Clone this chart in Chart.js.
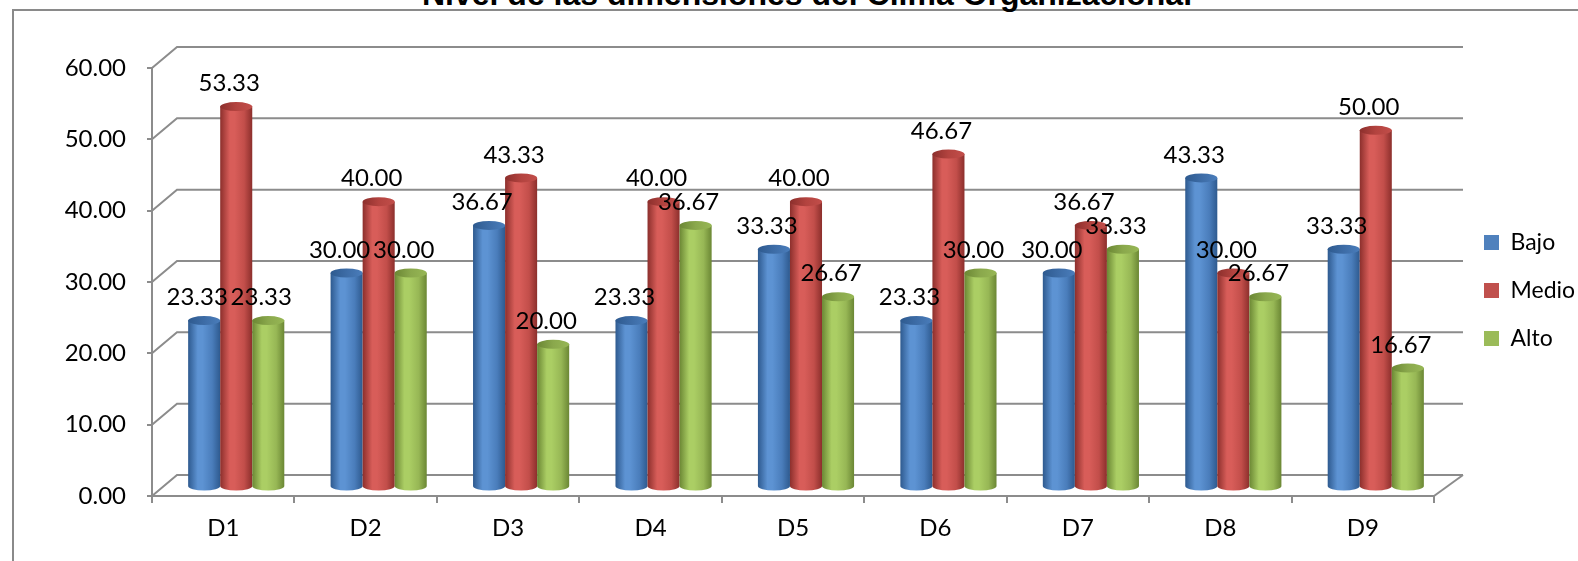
<!DOCTYPE html>
<html>
<head>
<meta charset="utf-8">
<script src="https://cdn.jsdelivr.net/npm/chart.js@4.4.1/dist/chart.umd.min.js"></script>
<style>
  body { margin: 0; width: 1578px; height: 561px; overflow: hidden; background: #fff; position: relative; }
  #frame { position: absolute; left: 12px; top: 9px; width: 1700px; height: 700px; border: 2px solid #8a8a8a; }
  #title { position: absolute; left: 0; width: 1614px; top: -24px; text-align: center; white-space: nowrap;
           font: bold 32px "Liberation Sans", Arial, sans-serif; color: #000; }
  canvas { position: absolute; left: 0; top: 0; }
</style>
</head>
<body>
<div id="frame"></div>
<div id="title">Nivel de las dimensiones del Clima Organizacional</div>
<canvas id="chart" width="1578" height="561"></canvas>
<script>
const categories = ['D1', 'D2', 'D3', 'D4', 'D5', 'D6', 'D7', 'D8', 'D9'];
const bajo  = [23.33, 30.00, 36.67, 23.33, 33.33, 23.33, 30.00, 43.33, 33.33];
const medio = [53.33, 40.00, 43.33, 40.00, 40.00, 46.67, 36.67, 30.00, 50.00];
const alto  = [23.33, 30.00, 20.00, 36.67, 26.67, 30.00, 33.33, 26.67, 16.67];
const yTicks = [0, 10, 20, 30, 40, 50, 60];

const FONT = 'Lato';
const GRID = '#8c8c8c';

// shading for the cylinders: [dark edge, highlight, body, cap]
const shades = [
  ['#2e5a8f', '#5d93d3', '#4a7dbb', '#3d6ca6'],
  ['#8c2f2c', '#d85d59', '#c24e4a', '#b3433f'],
  ['#6b8734', '#abce64', '#97b755', '#8aa84c'],
];

// bars stand half way into the depth of the 3D box
const DX = 13, DY = -9;

const box3d = {
  id: 'box3d',
  beforeInit(chart) {
    const fit = chart.legend.fit.bind(chart.legend);
    chart.legend.fit = function () { fit(); this.width = 144; };
  },
  afterLayout(chart) {
    const lg = chart.legend;
    lg.left = 1459; lg.right = lg.left + lg.width;
    lg.top -= 24; lg.bottom -= 24;
  },
  beforeDatasetsDraw(chart) {
    const { ctx, chartArea: a, scales: { y } } = chart;
    ctx.save();
    ctx.strokeStyle = GRID;
    ctx.lineWidth = 2;
    // back wall gridlines + side wall diagonals
    yTicks.forEach(v => {
      const fy = y.getPixelForValue(v);
      ctx.beginPath();
      ctx.moveTo(a.left, fy);
      ctx.lineTo(a.left + 25, fy - 21);
      ctx.lineTo(a.right + 29, fy - 21);
      ctx.stroke();
    });
    // floor right edge
    ctx.beginPath();
    ctx.moveTo(a.right, a.bottom);
    ctx.lineTo(a.right + 29, a.bottom - 21);
    ctx.stroke();

    // cylinders
    categories.forEach((c, i) => {
      chart.data.datasets.forEach((ds, d) => {
        const el = chart.getDatasetMeta(d).data[i];
        const cx = el.x + DX, yt = el.y + DY, yb = el.base + DY;
        const rx = el.width / 2, ry = 4.5;
        const s = shades[d];
        const g = ctx.createLinearGradient(cx - rx, 0, cx + rx, 0);
        g.addColorStop(0, s[0]);
        g.addColorStop(0.3, s[1]);
        g.addColorStop(0.45, s[1]);
        g.addColorStop(0.75, s[2]);
        g.addColorStop(1, s[0]);
        ctx.fillStyle = g;
        ctx.beginPath();
        ctx.moveTo(cx - rx, yt);
        ctx.lineTo(cx - rx, yb);
        ctx.ellipse(cx, yb, rx, ry, 0, Math.PI, 0, true);
        ctx.lineTo(cx + rx, yt);
        ctx.closePath();
        ctx.fill();
        const gc = ctx.createLinearGradient(cx - rx, 0, cx + rx, 0);
        gc.addColorStop(0, s[0]);
        gc.addColorStop(0.5, s[3]);
        gc.addColorStop(1, s[2]);
        ctx.fillStyle = gc;
        ctx.beginPath();
        ctx.ellipse(cx, yt, rx, ry, 0, 0, Math.PI * 2);
        ctx.fill();
      });
    });

    // value labels
    ctx.fillStyle = '#000';
    ctx.font = '24px ' + FONT;
    ctx.textAlign = 'center';
    ctx.textBaseline = 'middle';
    categories.forEach((c, i) => {
      chart.data.datasets.forEach((ds, d) => {
        const el = chart.getDatasetMeta(d).data[i];
        ctx.fillText(ds.data[i].toFixed(2), el.x + 6, el.y - 32);
      });
    });
    ctx.restore();
    return false;
  }
};

new Chart(document.getElementById('chart'), {
  type: 'bar',
  data: {
    labels: categories,
    datasets: [
      { label: 'Bajo', data: bajo, backgroundColor: '#4F81BD' },
      { label: 'Medio', data: medio, backgroundColor: '#C0504D' },
      { label: 'Alto', data: alto, backgroundColor: '#9BBB59' },
    ]
  },
  options: {
    responsive: false,
    animation: false,
    devicePixelRatio: 1,
    datasets: { bar: { categoryPercentage: 0.675, barPercentage: 1 } },
    layout: { padding: { top: 68, left: 0, right: 0, bottom: 0 } },
    plugins: {
      legend: {
        position: 'right',
        align: 'center',
        labels: { boxWidth: 15, boxHeight: 15, padding: 25, color: '#000', font: { family: FONT, size: 23 } }
      },
      tooltip: { enabled: false }
    },
    scales: {
      x: {
        grid: { drawOnChartArea: false, drawTicks: true, tickLength: 7, color: GRID, lineWidth: 2 },
        border: { display: true, color: GRID, width: 2 },
        ticks: { color: '#000', font: { family: FONT, size: 24 }, padding: 11 },
        afterFit(s) { s.height = 65; }
      },
      y: {
        min: 0,
        max: 60,
        grid: { drawOnChartArea: false, drawTicks: true, tickLength: 5, color: GRID, lineWidth: 2 },
        border: { display: true, color: GRID, width: 2 },
        ticks: { stepSize: 10, color: '#000', font: { family: FONT, size: 24 }, padding: 21,
                 callback: v => v.toFixed(2) },
        afterFit(s) { s.width = 152; }
      }
    }
  },
  plugins: [box3d]
});
</script>
</body>
</html>
